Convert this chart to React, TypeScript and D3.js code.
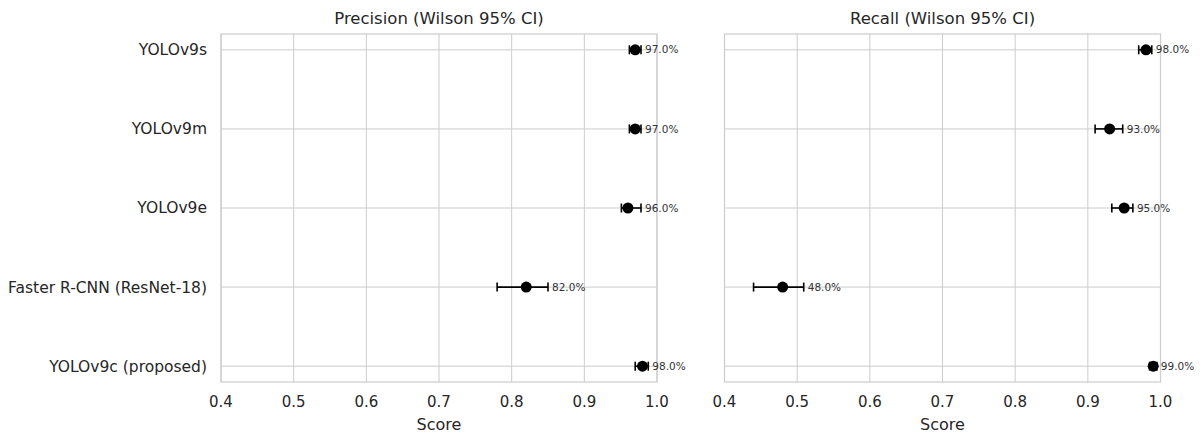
import React from "react";
import * as d3 from "d3";

const categories = ["YOLOv9s", "YOLOv9m", "YOLOv9e", "Faster R-CNN (ResNet-18)", "YOLOv9c (proposed)"];
const precisionValues = [0.97, 0.97, 0.96, 0.82, 0.98];
const precisionLow = [0.962, 0.962, 0.951, 0.78, 0.97];
const precisionHigh = [0.978, 0.978, 0.978, 0.85, 0.988];
const recallValues = [0.98, 0.93, 0.95, 0.48, 0.99];
const recallLow = [0.97, 0.91, 0.933, 0.44, 0.985];
const recallHigh = [0.988, 0.948, 0.962, 0.509, 0.995];
const xTicks = [0.4, 0.5, 0.6, 0.7, 0.8, 0.9, 1.0];
const titles = ["Precision (Wilson 95% CI)", "Recall (Wilson 95% CI)"];

const W = 1203;
const H = 437;
const top = 34;
const bottom = 382;
const panels = [
  { x0: 221, x1: 657, vals: precisionValues, lo: precisionLow, hi: precisionHigh, title: titles[0] },
  { x0: 724.5, x1: 1160.5, vals: recallValues, lo: recallLow, hi: recallHigh, title: titles[1] },
];

const FONT = "DejaVu Sans, sans-serif";
const TXT = "#262626";
const GRID = "#cccccc";

export default function App() {
  const y = d3.scaleLinear().domain([-0.2, categories.length - 1 + 0.2]).range([top, bottom]);
  return (
    <svg width={W} height={H} style={{ position: "absolute", left: 0, top: 0, background: "#fff" }} fontFamily={FONT}>
      {panels.map((p, pi) => {
        const x = d3.scaleLinear().domain([0.4, 1.0]).range([p.x0, p.x1]);
        return (
          <g key={pi}>
            {xTicks.map((t) => (
              <line key={"gx" + t} x1={x(t)} x2={x(t)} y1={top} y2={bottom} stroke={GRID} strokeWidth={1} />
            ))}
            {categories.map((c, i) => (
              <line key={"gy" + i} x1={p.x0} x2={p.x1} y1={y(i)} y2={y(i)} stroke={GRID} strokeWidth={1} />
            ))}
            <rect x={p.x0} y={top} width={p.x1 - p.x0} height={bottom - top} fill="none" stroke={GRID} strokeWidth={1.2} />
            {xTicks.map((t) => (
              <text key={"tx" + t} x={x(t)} y={407} textAnchor="middle" fontSize={15} fill={TXT}>
                {d3.format(".1f")(t)}
              </text>
            ))}
            <text x={(p.x0 + p.x1) / 2} y={430} textAnchor="middle" fontSize={16} fill={TXT}>Score</text>
            <text x={(p.x0 + p.x1) / 2} y={24} textAnchor="middle" fontSize={16.5} fill={TXT}>{p.title}</text>
            {pi === 0 &&
              categories.map((c, i) => (
                <text key={"ty" + i} x={p.x0 - 14} y={y(i)} dy="0.35em" textAnchor="end" fontSize={15.5} fill={TXT}>
                  {c}
                </text>
              ))}
            {p.vals.map((v, i) => {
              const yy = y(i);
              return (
                <g key={"m" + i}>
                  <line x1={x(p.lo[i])} x2={x(p.hi[i])} y1={yy} y2={yy} stroke="#000" strokeWidth={1.6} />
                  <line x1={x(p.lo[i])} x2={x(p.lo[i])} y1={yy - 4.5} y2={yy + 4.5} stroke="#000" strokeWidth={1.6} />
                  <line x1={x(p.hi[i])} x2={x(p.hi[i])} y1={yy - 4.5} y2={yy + 4.5} stroke="#000" strokeWidth={1.6} />
                  <circle cx={x(v)} cy={yy} r={5.5} fill="#000" />
                  <text x={x(p.hi[i]) + 4} y={yy} dy="0.35em" fontSize={10.5} fill="#333">
                    {d3.format(".1f")(v * 100) + "%"}
                  </text>
                </g>
              );
            })}
          </g>
        );
      })}
    </svg>
  );
}
